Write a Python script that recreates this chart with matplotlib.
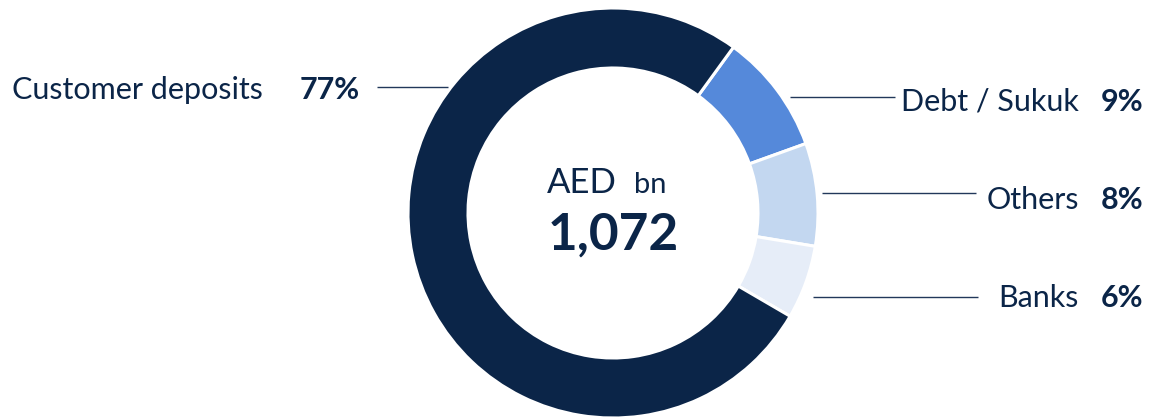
import matplotlib
matplotlib.use("Agg")
import matplotlib.pyplot as plt

# Data
categories = ["Debt / Sukuk", "Others", "Banks", "Customer deposits"]
shares = [9.5, 8.1, 5.8, 76.6]          # share of funding (%) as read from the ring
pct_labels = ["9%", "8%", "6%", "77%"]
colors = ["#5589DA", "#C3D7F0", "#E6EDF8", "#0B2548"]
total_label = "1,072"
unit_label = ("AED", "bn")

NAVY = "#0B2548"
W, H = 1150, 418
fig = plt.figure(figsize=(W / 100, H / 100), dpi=100)
ax = fig.add_axes([0, 0, 1, 1])

def Y(py):
    return H - py

cx, cy, R = 613, 213, 205
ax.pie(shares, colors=colors, startangle=54, counterclock=False,
       center=(cx, Y(cy)), radius=R, frame=True,
       wedgeprops=dict(width=60, edgecolor="white", linewidth=2.2))
ax.set_xlim(0, W)
ax.set_ylim(0, H)
ax.set_aspect("equal")
ax.axis("off")

FONT = "Lato"
LS = 22
# Leader lines
lines = {
    "Debt / Sukuk": (790, 895, 97),
    "Others": (822, 976, 193),
    "Banks": (813, 978, 297),
    "Customer deposits": (377, 448, 87),
}
for k, (x0, x1, y) in lines.items():
    ax.plot([x0, x1], [Y(y), Y(y)], color="#22385A", lw=1.0, solid_capstyle="butt")

# Labels
baselines = {"Debt / Sukuk": 111, "Others": 209, "Banks": 307}
for cat, pct in zip(categories, pct_labels):
    if cat in baselines:
        b = baselines[cat]
        ax.text(1079, Y(b), cat, ha="right", va="baseline", fontsize=LS,
                color=NAVY, family=FONT)
        ax.text(1143, Y(b), pct, ha="right", va="baseline", fontsize=LS,
                color=NAVY, family=FONT, fontweight="bold")
    else:
        ax.text(12, Y(99), cat, ha="left", va="baseline", fontsize=LS,
                color=NAVY, family=FONT)
        ax.text(300, Y(99), pct, ha="left", va="baseline", fontsize=LS,
                color=NAVY, family=FONT, fontweight="bold")

# Center text
ax.text(617, Y(193), unit_label[0], ha="right", va="baseline", fontsize=25,
        color=NAVY, family=FONT)
ax.text(634, Y(193), unit_label[1], ha="left", va="baseline", fontsize=21,
        color=NAVY, family=FONT)
ax.text(613, Y(250), total_label, ha="center", va="baseline", fontsize=37,
        color=NAVY, family=FONT, fontweight="bold")

fig.savefig("out.png", dpi=100, facecolor="white")
